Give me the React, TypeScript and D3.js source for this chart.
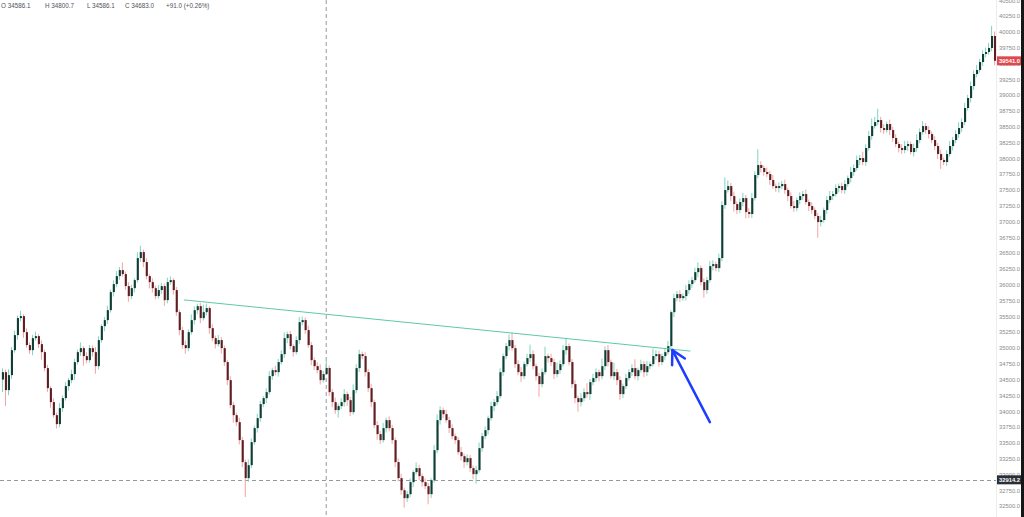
import React, { useEffect, useRef } from 'react';
import * as d3 from 'd3';

// closes, one per candle (open = previous close)
const closes = [
  34617, 34333, 34570, 34965, 35203, 35472, 35503, 35250, 35045, 34965,
  35155, 35187, 35060, 34934, 34681, 34364, 34143, 33937, 33795, 34048,
  34206, 34396, 34491, 34586, 34776, 34934, 34997, 34871, 34807, 34997,
  34934, 34712, 35124, 35345, 35440, 35598, 35883, 36010, 36136, 36231,
  36168, 35978, 35820, 35946, 36073, 36421, 36516, 36358, 36136, 36041,
  35946, 35820, 35915, 35978, 35756, 36041, 36073, 35915, 35566, 35282,
  35045, 34997, 35250, 35440, 35598, 35661, 35472, 35566, 35630, 35313,
  35155, 35060, 35124, 34997, 34776, 34491, 34096, 33937, 33826, 33542,
  33194, 32941, 33146, 33510, 33732, 33890, 34112, 34206, 34301, 34554,
  34649, 34617, 34776, 34902, 35155, 35218, 35029, 34934, 35124, 35408,
  35440, 35282, 35045, 34807, 34712, 34649, 34491, 34586, 34683, 34301,
  34143, 34017, 34080, 34143, 34270, 34174, 33985, 34333, 34681, 34902,
  34871, 34617, 34364, 34143, 33779, 33637, 33542, 33732, 33858, 33732,
  33542, 33194, 32941, 32750, 32624, 32687, 32877, 33036, 33099, 32972,
  32877, 32814, 32687, 32909, 33383, 33858, 34017, 33953, 33858, 33732,
  33605, 33542, 33352, 33288, 33194, 33257, 33099, 33004, 33067, 33415,
  33605, 33700, 33890, 34080, 34143, 34238, 34617, 34871, 35029, 35124,
  34997, 34744, 34617, 34554, 34744, 34839, 34902, 34712, 34554, 34428,
  34617, 34871, 34839, 34776, 34586, 34649, 34744, 34965, 35029, 34776,
  34428, 34206, 34143, 34206, 34301, 34270, 34459, 34523, 34617, 34554,
  34712, 34965, 34776, 34554, 34617, 34491, 34270, 34396, 34523, 34617,
  34681, 34554, 34649, 34744, 34617, 34712, 34744, 34871, 34902, 34776,
  34871, 34934, 35029, 35566, 35788, 35851, 35788, 35820, 35915, 36010,
  36073, 36199, 36263, 36041, 35915, 36073, 36294, 36326, 36263, 36421,
  37260, 37497, 37560, 37402, 37276, 37181, 37307, 37370, 37149, 37118,
  37370, 37735, 37893, 37846, 37782, 37750, 37656, 37560, 37529, 37560,
  37592, 37497, 37402, 37244, 37212, 37339, 37402, 37434, 37307, 37244,
  37181, 37086, 36991, 37023, 37181, 37339, 37402, 37434, 37529, 37560,
  37497, 37592, 37687, 37782, 37846, 37972, 38003, 37940, 38162, 38351,
  38509, 38573, 38604, 38478, 38446, 38541, 38446, 38320, 38225, 38162,
  38130, 38193, 38225, 38098, 38162, 38288, 38414, 38509, 38446, 38383,
  38288, 38193, 38067, 37972, 37940, 38067, 38193, 38288, 38383, 38478,
  38573, 38795, 38953, 39142, 39332, 39396, 39522, 39649, 39680, 39744, 39934, 39541,
]
const firstOpen = 34500

// how far each wick reaches above the body / below the body, in points
const hiWick = [
  60, 40, 90, 50, 70, 40, 80, 30, 60, 40, 50, 70, 30, 60, 40, 50, 30, 60, 40, 80,
  40, 60, 30, 70, 50, 40, 90, 30, 60, 50, 40, 80, 60, 30, 50, 70, 40, 60, 80, 50,
  120, 40, 60, 50, 30, 90, 100, 40, 60, 30, 60, 40, 80, 50, 40, 70, 60, 30, 50, 40,
  50, 70, 40, 90, 60, 40, 50, 120, 70, 30, 60, 40, 80, 50, 40, 30, 60, 50, 40, 70,
  50, 40, 90, 60, 40, 70, 50, 30, 60, 80, 40, 70, 50, 60, 90, 40, 50, 30, 60, 80,
  60, 40, 70, 50, 40, 60, 90, 50, 118, 40, 50, 70, 40, 60, 80, 40, 50, 90, 60, 70,
  40, 60, 50, 70, 40, 60, 50, 80, 40, 60, 50, 40, 60, 70, 40, 50, 60, 30, 90, 50,
  40, 60, 50, 30, 80, 90, 60, 40, 70, 50, 60, 40, 50, 80, 40, 60, 50, 40, 70, 90,
  50, 60, 40, 70, 50, 80, 60, 40, 50, 90, 120, 50, 60, 80, 40, 70, 150, 60, 40, 50,
  60, 150, 40, 70, 50, 120, 60, 80, 130, 40, 50, 60, 40, 80, 60, 140, 50, 70, 60, 40,
  120, 60, 80, 40, 150, 50, 60, 40, 70, 50, 60, 140, 40, 70, 50, 80, 40, 120, 60, 50,
  40, 60, 80, 30, 70, 50, 60, 40, 80, 60, 50, 70, 90, 40, 60, 50, 80, 60, 40, 70,
  60, 200, 90, 50, 70, 40, 60, 80, 50, 60, 80, 60, 250, 60, 40, 70, 50, 80, 40, 60,
  50, 70, 40, 60, 80, 40, 60, 50, 70, 40, 60, 40, 50, 70, 40, 60, 80, 50, 60, 40,
  50, 60, 40, 80, 60, 70, 50, 100, 60, 80, 120, 80, 180, 50, 60, 40, 70, 50, 60, 40,
  60, 80, 50, 40, 70, 90, 60, 80, 50, 60, 40, 60, 50, 70, 40, 60, 80, 50, 60, 90,
  60, 80, 50, 70, 60, 80, 50, 60, 70, 80, 160, 70,
]
const loWick = [
  200, 250, 80, 60, 40, 70, 50, 90, 40, 60, 80, 40, 60, 120, 50, 60, 90, 40, 70, 50,
  60, 40, 70, 50, 90, 40, 60, 150, 50, 40, 70, 120, 50, 40, 80, 60, 40, 70, 50, 60,
  40, 60, 90, 50, 70, 40, 60, 80, 50, 100, 70, 50, 40, 60, 90, 50, 40, 70, 60, 80,
  60, 90, 50, 40, 70, 60, 80, 40, 50, 90, 50, 70, 40, 90, 60, 80, 50, 120, 60, 70,
  80, 300, 60, 50, 40, 70, 60, 50, 80, 40, 60, 50, 70, 40, 60, 80, 50, 70, 40, 60,
  50, 60, 40, 80, 60, 50, 70, 40, 0, 60, 80, 60, 120, 50, 70, 90, 60, 40, 50, 60,
  50, 70, 60, 80, 50, 90, 60, 40, 70, 50, 60, 80, 50, 70, 150, 60, 50, 80, 40, 60,
  70, 50, 160, 60, 40, 50, 70, 60, 40, 80, 50, 60, 40, 70, 90, 50, 60, 80, 150, 40,
  60, 50, 70, 40, 80, 50, 40, 60, 50, 70, 40, 60, 50, 90, 50, 40, 60, 50, 70, 200,
  50, 40, 70, 60, 80, 50, 60, 40, 70, 50, 60, 80, 150, 70, 50, 60, 90, 50, 60, 80,
  50, 60, 70, 40, 60, 80, 90, 60, 50, 40, 60, 50, 70, 40, 80, 60, 50, 40, 60, 70,
  50, 60, 40, 70, 80, 50, 60, 40, 70, 60, 60, 40, 80, 50, 120, 60, 40, 70, 50, 60,
  50, 60, 40, 80, 120, 60, 50, 70, 100, 60, 60, 40, 50, 70, 60, 50, 80, 40, 60, 70,
  50, 60, 80, 40, 60, 50, 70, 60, 40, 80, 60, 50, 250, 70, 40, 60, 50, 60, 40, 70,
  50, 60, 40, 70, 60, 40, 80, 50, 60, 40, 60, 40, 50, 70, 60, 40, 80, 60, 50, 70,
  60, 50, 80, 40, 70, 60, 50, 40, 60, 70, 50, 60, 80, 140, 50, 60, 40, 70, 50, 60,
  60, 50, 40, 70, 60, 50, 40, 60, 50, 40, 50, 70,
]

const yTicks = [
  32500, 32750, 33000, 33250, 33500, 33750, 34000, 34250, 34500, 34750, 35000,
  35250, 35500, 35750, 36000, 36250, 36500, 36750, 37000, 37250, 37500, 37750,
  38000, 38250, 38500, 38750, 39000, 39250, 39500, 39750, 40000, 40250, 40500,
]

const legend = ['O 34586.1', 'H 34800.7', 'L 34586.1', 'C 34683.0', '+91.0 (+0.26%)']
const legendX = [1, 45, 87, 125, 166]

const crossIndex = 108
const crossPrice = 32914.2
const lastPrice = 39541.0

// drawn trend line and arrow, as [candle index, price]
const trendLine = [[60.5, 35760], [229.5, 34950]]
const arrow = [[236, 33826], [223.5, 34965]]

const W = 1024
const H = 517

const App = () => {
  const ref = useRef<SVGSVGElement>(null)

  useEffect(() => {
    draw()
  })

  const draw = () => {
    const svg = d3.select(ref.current)
    svg.selectAll('*').remove()

    const plotRight = 996
    const x = d3.scaleBand<number>().domain(d3.range(closes.length)).range([1, 997]).padding(0.3)
    const cx = (i: number) => 1 + x.step() * (i + 0.5)
    const y = d3.scaleLinear().domain([32500, 40250]).range([506, 16])

    svg.append('rect').attr('width', W).attr('height', H).attr('fill', '#ffffff')

    const candles = closes.map((c, i) => {
      const o = i === 0 ? firstOpen : closes[i - 1]
      return { i, o, c, h: Math.max(o, c) + hiWick[i], l: Math.min(o, c) - loWick[i] }
    })

    // crosshair
    svg.append('line')
      .attr('x1', cx(crossIndex)).attr('x2', cx(crossIndex))
      .attr('y1', 0).attr('y2', H)
      .attr('stroke', '#9598a1').attr('stroke-width', 1)
      .attr('stroke-dasharray', '4,3')
    svg.append('line')
      .attr('x1', 0).attr('x2', plotRight)
      .attr('y1', Math.round(y(crossPrice)) + 0.5).attr('y2', Math.round(y(crossPrice)) + 0.5)
      .attr('stroke', '#9598a1').attr('stroke-width', 1)
      .attr('stroke-dasharray', '4,3')

    const g = svg.append('g')
    g.selectAll('.wick')
      .data(candles)
      .enter()
      .append('line')
      .attr('x1', (d) => cx(d.i)).attr('x2', (d) => cx(d.i))
      .attr('y1', (d) => y(d.h)).attr('y2', (d) => y(d.l))
      .attr('stroke', (d) => (d.c >= d.o ? '#7fd6bd' : '#f2a3a3'))
      .attr('stroke-width', 1)

    g.selectAll('.body')
      .data(candles)
      .enter()
      .append('rect')
      .attr('x', (d) => x(d.i) || 0)
      .attr('width', x.bandwidth())
      .attr('y', (d) => y(Math.max(d.o, d.c)))
      .attr('height', (d) => Math.max(1, Math.abs(y(d.o) - y(d.c))))
      .attr('fill', (d) => (d.c >= d.o ? '#103d34' : '#5e1e22'))

    // trend line
    svg.append('line')
      .attr('x1', cx(trendLine[0][0])).attr('y1', y(trendLine[0][1]))
      .attr('x2', cx(trendLine[1][0])).attr('y2', y(trendLine[1][1]))
      .attr('stroke', '#5ec9a8').attr('stroke-width', 1)

    // arrow
    const ax1 = cx(arrow[0][0]), ay1 = y(arrow[0][1])
    const ax2 = cx(arrow[1][0]), ay2 = y(arrow[1][1])
    const ang = Math.atan2(ay2 - ay1, ax2 - ax1)
    const head = 15
    svg.append('path')
      .attr('d', `M${ax1},${ay1}L${ax2},${ay2}`)
      .attr('stroke', '#1e3cff').attr('stroke-width', 2.5).attr('fill', 'none')
      .attr('stroke-linecap', 'round')
    svg.append('path')
      .attr('d', `M${ax2 - head * Math.cos(ang - 0.5)},${ay2 - head * Math.sin(ang - 0.5)}L${ax2},${ay2}L${ax2 - head * Math.cos(ang + 0.5)},${ay2 - head * Math.sin(ang + 0.5)}`)
      .attr('stroke', '#1e3cff').attr('stroke-width', 2.5).attr('fill', 'none')
      .attr('stroke-linecap', 'round').attr('stroke-linejoin', 'round')

    // price scale
    svg.append('rect').attr('x', plotRight + 0.5).attr('y', 0).attr('width', W - plotRight).attr('height', H).attr('fill', '#ffffff')
    svg.append('line').attr('x1', plotRight + 0.5).attr('x2', plotRight + 0.5).attr('y1', 0).attr('y2', H)
      .attr('stroke', '#ececec')
    const axis = svg.append('g')
      .attr('transform', `translate(${plotRight + 3},0)`)
      .call(d3.axisRight(y).tickValues(yTicks).tickSize(0).tickFormat((d) => (+d).toFixed(1)))
    axis.select('.domain').remove()
    axis.selectAll('text')
      .attr('x', 0)
      .attr('fill', '#8a8a8a')
      .attr('font-size', '5.8px')
      .attr('font-family', 'Liberation Sans, Arial, sans-serif')

    const tag = (price: number, bg: string) => {
      const ty = y(price)
      svg.append('rect').attr('x', plotRight + 1).attr('y', ty - 4.5).attr('width', 24).attr('height', 9).attr('fill', bg)
      svg.append('text').attr('x', plotRight + 3).attr('y', ty).attr('dy', '0.35em')
        .attr('fill', '#ffffff').attr('font-size', '5.8px').attr('font-weight', 'bold')
        .attr('font-family', 'Liberation Sans, Arial, sans-serif')
        .text(price.toFixed(1))
    }
    tag(lastPrice, '#e0484e')
    tag(crossPrice, '#2a2e39')

    svg.append('rect').attr('x', 1021).attr('y', 0).attr('width', 3).attr('height', H).attr('fill', '#161616')

    // legend
    svg.selectAll('.legend')
      .data(legend)
      .enter()
      .append('text')
      .attr('x', (d, i) => legendX[i])
      .attr('y', 8)
      .attr('fill', '#50535e')
      .attr('font-size', '6.3px')
      .attr('font-family', 'Liberation Sans, Arial, sans-serif')
      .text((d) => d)
  }

  return (
    <svg ref={ref} width={W} height={H} style={{ position: 'absolute', left: 0, top: 0 }} />
  )
}

export default App
